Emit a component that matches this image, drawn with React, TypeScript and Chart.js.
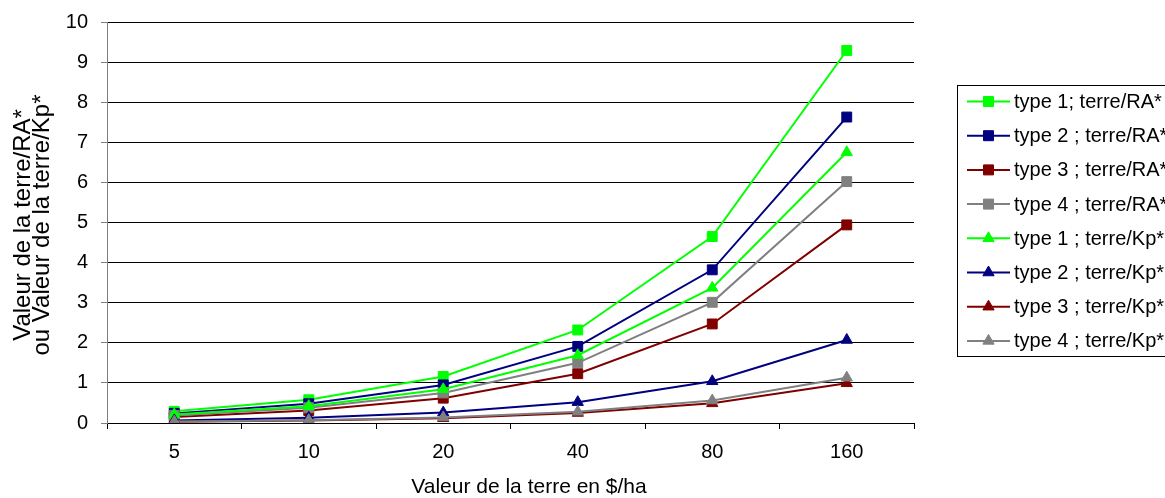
import React, { useEffect, useRef } from 'react';
import { Chart, registerables } from 'chart.js';

Chart.register(...registerables);

// ---- Data ----
const categories = ['5', '10', '20', '40', '80', '160'];
const seriesLabels = [
  'type 1; terre/RA*',
  'type 2 ; terre/RA*',
  'type 3 ; terre/RA*',
  'type 4 ; terre/RA*',
  'type 1 ; terre/Kp*',
  'type 2 ; terre/Kp*',
  'type 3 ; terre/Kp*',
  'type 4 ; terre/Kp*',
];
const type1RA = [0.29, 0.58, 1.16, 2.32, 4.65, 9.29];
const type2RA = [0.24, 0.48, 0.95, 1.91, 3.82, 7.63];
const type3RA = [0.15, 0.31, 0.62, 1.23, 2.47, 4.94];
const type4RA = [0.19, 0.38, 0.75, 1.5, 3.01, 6.02];
const type1Kp = [0.21, 0.42, 0.84, 1.69, 3.37, 6.75];
const type2Kp = [0.065, 0.13, 0.26, 0.52, 1.04, 2.07];
const type3Kp = [0.03, 0.06, 0.12, 0.25, 0.49, 0.99];
const type4Kp = [0.035, 0.07, 0.14, 0.28, 0.56, 1.13];
const yMin = 0;
const yMax = 10;
const yStep = 1;
const xTitle = 'Valeur de la terre en $/ha';
const yTitleLines = ['Valeur de la terre/RA*', 'ou Valeur de la terre/Kp*'];

const GREEN = '#00FF00';
const NAVY = '#000080';
const MAROON = '#800000';
const GRAY = '#808080';

const FAMILY = '"Liberation Sans", Arial, sans-serif';

const seriesData = [type1RA, type2RA, type3RA, type4RA, type1Kp, type2Kp, type3Kp, type4Kp];
const seriesColors = [GREEN, NAVY, MAROON, GRAY, GREEN, NAVY, MAROON, GRAY];
const seriesStyles = ['rect', 'rect', 'rect', 'rect', 'triangle', 'triangle', 'triangle', 'triangle'];

function drawMarker(ctx: CanvasRenderingContext2D, style: string, x: number, y: number, color: string) {
  ctx.fillStyle = color;
  ctx.strokeStyle = color;
  ctx.lineWidth = 1;
  ctx.beginPath();
  if (style === 'rect') {
    const s = 5;
    ctx.rect(x - s, y - s, 2 * s, 2 * s);
  } else {
    const r = 6.5;
    for (let k = 0; k < 3; k++) {
      const a = (k * 2 * Math.PI) / 3;
      const px = x + Math.sin(a) * r;
      const py = y - Math.cos(a) * r;
      if (k === 0) ctx.moveTo(px, py);
      else ctx.lineTo(px, py);
    }
    ctx.closePath();
  }
  ctx.fill();
  ctx.stroke();
}

const overlayPlugin = {
  id: 'overlay',
  afterDraw(chart: any) {
    const ctx: CanvasRenderingContext2D = chart.ctx;
    ctx.save();
    // legend
    ctx.strokeStyle = '#000';
    ctx.lineWidth = 1;
    ctx.strokeRect(957.5, 85.5, 260, 271);
    chart.data.datasets.forEach((ds: any, i: number) => {
      const y = 101.5 + i * 34.2;
      ctx.strokeStyle = ds.borderColor;
      ctx.lineWidth = 2;
      ctx.beginPath();
      ctx.moveTo(967, y);
      ctx.lineTo(1010, y);
      ctx.stroke();
      drawMarker(ctx, ds.pointStyle, 988.5, y, ds.borderColor);
      ctx.fillStyle = '#000';
      ctx.font = `20px ${FAMILY}`;
      ctx.textAlign = 'left';
      ctx.textBaseline = 'middle';
      ctx.fillText(ds.label, 1014, y + 1);
    });
    // x title
    ctx.fillStyle = '#000';
    ctx.font = `21px ${FAMILY}`;
    ctx.textAlign = 'center';
    ctx.textBaseline = 'middle';
    ctx.fillText(xTitle, 529, 487);
    // y title
    ctx.translate(33, 225);
    ctx.rotate(-Math.PI / 2);
    ctx.font = `24px ${FAMILY}`;
    ctx.fillText(yTitleLines[0], 0, -9.5);
    ctx.fillText(yTitleLines[1], 0, 9.5);
    ctx.restore();
  },
};

export default function App() {
  const ref = useRef<HTMLCanvasElement | null>(null);
  useEffect(() => {
    document.body.style.margin = '0';
    const canvas = ref.current;
    if (!canvas) return;
    const n = seriesData.length;
    const chart = new Chart(canvas, {
      type: 'line',
      data: {
        labels: categories,
        datasets: seriesData.map((d, i) => ({
          label: seriesLabels[i],
          data: d,
          borderColor: seriesColors[i],
          backgroundColor: seriesColors[i],
          pointStyle: seriesStyles[i] as any,
          pointRadius: seriesStyles[i] === 'rect' ? 7 : 6.5,
          pointBorderWidth: 1,
          borderWidth: 2,
          tension: 0,
          fill: false,
          order: n - i,
        })),
      },
      options: {
        animation: false,
        responsive: false,
        devicePixelRatio: 1,
        layout: { padding: { left: 0, right: 251, top: 22, bottom: 0 } },
        plugins: {
          legend: { display: false },
          tooltip: { enabled: false },
          title: { display: false },
        },
        scales: {
          x: {
            type: 'category',
            offset: true,
            grid: {
              display: true,
              offset: true,
              drawOnChartArea: false,
              drawTicks: true,
              tickLength: 6,
              color: '#000',
            },
            border: { display: true, color: '#000', width: 1 },
            ticks: {
              color: '#000',
              font: { family: FAMILY, size: 20 },
              padding: 11,
              maxRotation: 0,
              autoSkip: false,
            },
            afterFit: (s: any) => {
              s.height = 75;
              s.paddingLeft = 0;
              s.paddingRight = 0;
            },
          },
          y: {
            min: yMin,
            max: yMax,
            ticks: {
              stepSize: yStep,
              color: '#000',
              font: { family: FAMILY, size: 20 },
              padding: 13,
            },
            grid: {
              color: '#000',
              tickColor: '#808080',
              tickLength: 6,
              drawTicks: true,
            },
            border: { display: true, color: '#808080', width: 1 },
            afterFit: (s: any) => {
              s.width = 107;
              s.paddingTop = 0;
              s.paddingBottom = 0;
            },
          },
        },
      },
      plugins: [overlayPlugin],
    });
    return () => chart.destroy();
  }, []);
  return (
    <canvas
      ref={ref}
      width={1165}
      height={498}
      style={{ display: 'block', width: 1165, height: 498 }}
    />
  );
}
